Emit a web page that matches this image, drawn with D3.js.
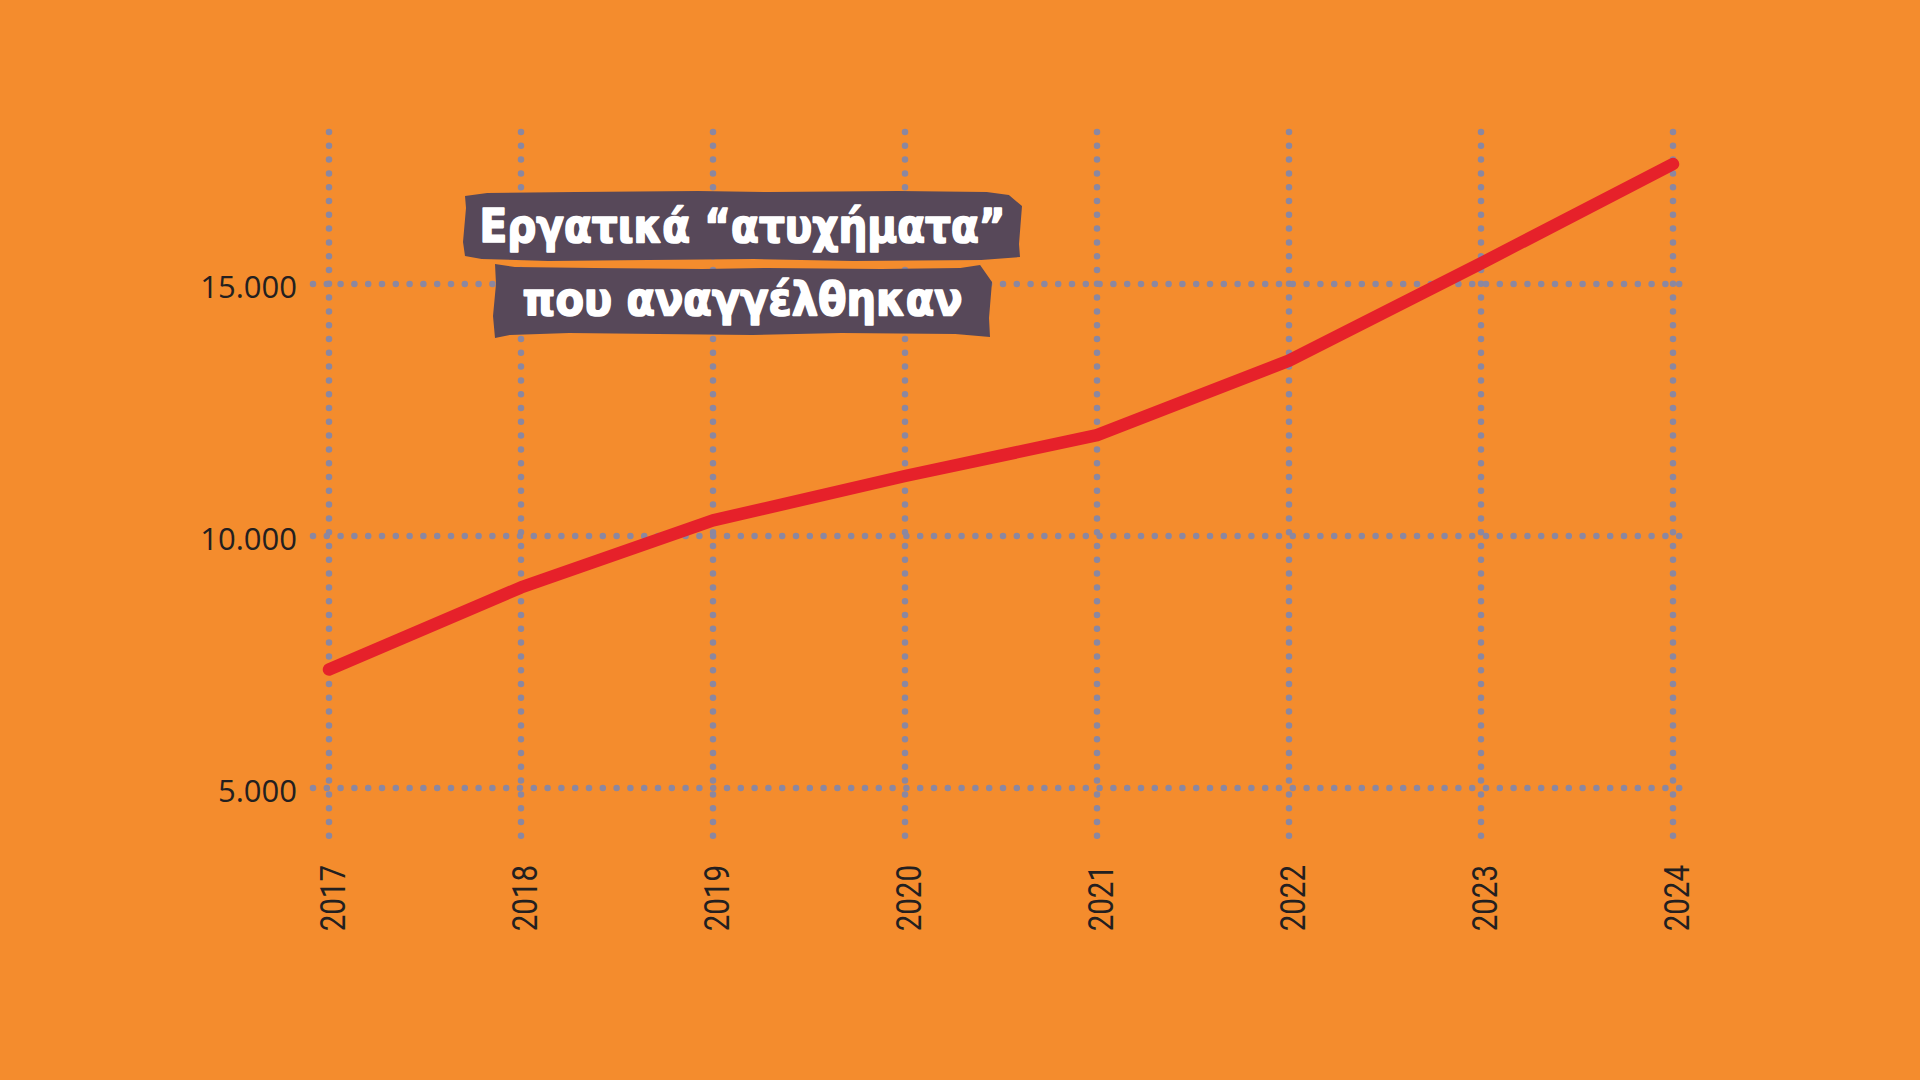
<!DOCTYPE html>
<html>
<head>
<meta charset="utf-8">
<script src="https://cdn.jsdelivr.net/npm/d3@7"></script>
<style>
  html, body { margin: 0; padding: 0; background: #f48c2d; }
  svg { display: block; }
</style>
</head>
<body>
<div id="chart"></div>
<script>
// data
var years = ["2017", "2018", "2019", "2020", "2021", "2022", "2023", "2024"];
var accidents = [7350, 8980, 10310, 11190, 12000, 13480, 15410, 17380];
var yTicks = [5000, 10000, 15000];
var titleLines = ["Εργατικά “ατυχήματα”", "που αναγγέλθηκαν"];

var W = 1920, H = 1080;
var gridLeft = 313, gridRight = 1681, gridTop = 132, gridBottom = 838;

var svg = d3.select("#chart")
  .append("svg")
    .attr("width", W)
    .attr("height", H);

svg.append("rect")
  .attr("width", W).attr("height", H)
  .attr("fill", "#f48c2d");

var x = d3.scalePoint()
  .domain(years)
  .range([329, 1673]);

var y = d3.scaleLinear()
  .domain([5000, 15000])
  .range([788, 284]);

var greek = d3.formatLocale({decimal: ",", thousands: ".", grouping: [3], currency: ["", "€"]});
var fmt = greek.format(",d");

// dotted grid
var dot = {color: "#8b87a0", width: 6.5, gap: "0 13.8"};

svg.append("g").selectAll("line.vgrid")
  .data(years)
  .enter().append("line")
    .attr("class", "vgrid")
    .attr("x1", function(d) { return x(d); })
    .attr("x2", function(d) { return x(d); })
    .attr("y1", gridTop)
    .attr("y2", gridBottom)
    .attr("stroke", dot.color)
    .attr("stroke-width", dot.width)
    .attr("stroke-linecap", "round")
    .attr("stroke-dasharray", dot.gap);

svg.append("g").selectAll("line.hgrid")
  .data(yTicks)
  .enter().append("line")
    .attr("class", "hgrid")
    .attr("x1", gridLeft)
    .attr("x2", gridRight)
    .attr("y1", function(d) { return y(d); })
    .attr("y2", function(d) { return y(d); })
    .attr("stroke", dot.color)
    .attr("stroke-width", dot.width)
    .attr("stroke-linecap", "round")
    .attr("stroke-dasharray", dot.gap);

// y axis labels
var yAxis = svg.append("g")
  .attr("transform", "translate(" + gridLeft + ",0)")
  .call(d3.axisLeft(y).tickValues(yTicks).tickSize(0).tickPadding(16).tickFormat(fmt));
yAxis.select(".domain").remove();
yAxis.selectAll("text")
  .attr("font-family", "'Open Sans', sans-serif")
  .attr("font-size", 31)
  .attr("fill", "#231f20")
  .attr("dy", "0.42em");

// x axis labels, rotated and a bit condensed
var squeeze = 0.82;
var xAxis = svg.append("g")
  .attr("transform", "translate(0," + gridBottom + ")")
  .call(d3.axisBottom(x).tickSize(0));
xAxis.select(".domain").remove();
xAxis.selectAll("text")
  .attr("font-family", "Roboto, sans-serif")
  .attr("font-size", 36)
  .attr("fill", "#231f20")
  .attr("text-anchor", "end")
  .attr("transform", "rotate(-90) scale(" + squeeze + ",1)")
  .attr("x", -27 / squeeze)
  .attr("y", 0)
  .attr("dy", "0.42em");

// the series
var line = d3.line()
  .x(function(d, i) { return x(years[i]); })
  .y(function(d) { return y(d); });

svg.append("path")
  .datum(accidents)
  .attr("d", line)
  .attr("fill", "none")
  .attr("stroke", "#e6212a")
  .attr("stroke-width", 12.5)
  .attr("stroke-linecap", "round")
  .attr("stroke-linejoin", "round");

// title on torn-paper labels
var title = svg.append("g");
var boxes = [
  {x0: 465, x1: 1020, y0: 192, y1: 260, baseline: 242, len: 526},
  {x0: 495, x1: 990, y0: 268, y1: 334, baseline: 315, len: 440}
];
var topWob = [[0, 4], [0.04, 1], [0.2, 0], [0.42, -1], [0.55, 0], [0.78, -1], [0.94, 0], [0.98, 3]];
var botWob = [[1, -3], [0.93, 0], [0.7, 1], [0.52, -1], [0.33, 0], [0.15, 1], [0.03, -1], [0, -4]];

function roughBox(b, flip) {
  var w = b.x1 - b.x0, pts = [];
  topWob.forEach(function(p) { pts.push([b.x0 + p[0] * w, b.y0 + (flip ? -p[1] : p[1])]); });
  pts.push([b.x1 + 2, b.y0 + 14]);
  pts.push([b.x1 - 1, b.y1 - 16]);
  botWob.forEach(function(p) { pts.push([b.x0 + p[0] * w, b.y1 + (flip ? -p[1] : p[1])]); });
  pts.push([b.x0 - 2, b.y1 - 18]);
  pts.push([b.x0 + 1, b.y0 + 16]);
  return d3.line()(pts) + "Z";
}

boxes.forEach(function(b, i) {
  title.append("path")
    .attr("d", roughBox(b, i === 1))
    .attr("fill", "#574859");
  title.append("text")
    .attr("x", (b.x0 + b.x1) / 2)
    .attr("y", b.baseline)
    .attr("text-anchor", "middle")
    .attr("font-family", "'DejaVu Sans Condensed', 'DejaVu Sans', sans-serif")
    .attr("font-weight", "bold")
    .attr("font-size", 46)
    .attr("fill", "#ffffff")
    .attr("stroke", "#ffffff")
    .attr("stroke-width", 1.6)
    .attr("stroke-linejoin", "round")
    .attr("textLength", b.len)
    .attr("lengthAdjust", "spacingAndGlyphs")
    .text(titleLines[i]);
});
</script>
</body>
</html>
